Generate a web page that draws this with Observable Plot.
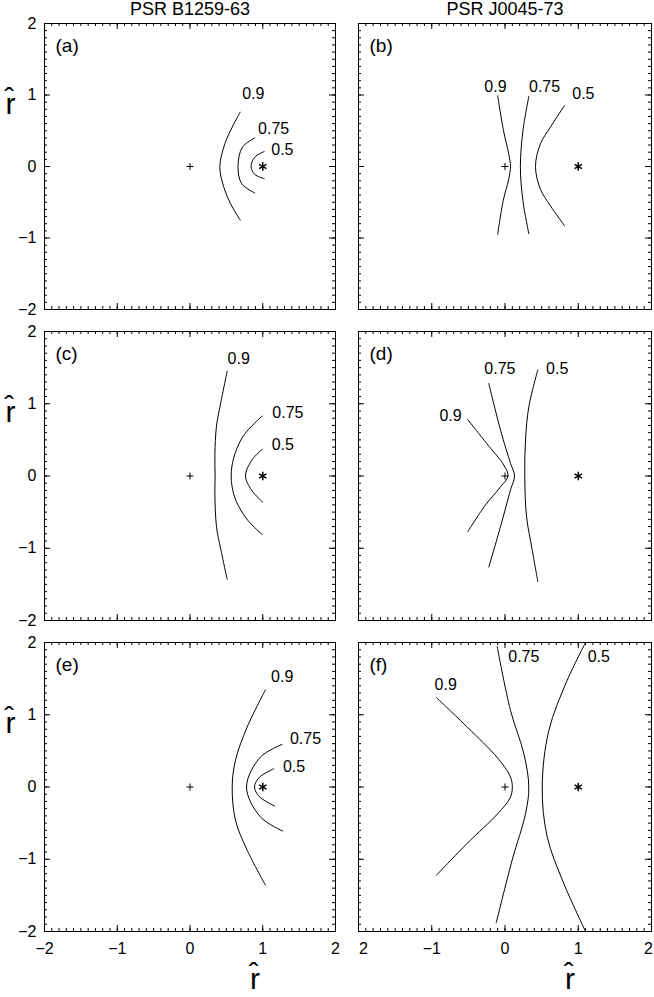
<!DOCTYPE html>
<html><head><meta charset="utf-8">
<script src="https://cdn.jsdelivr.net/npm/d3@7"></script>
<script src="https://cdn.jsdelivr.net/npm/@observablehq/plot@0.6"></script>
<style>
html,body{margin:0;padding:0;background:#fff;}
#fig{position:relative;width:654px;height:997px;overflow:hidden;background:#fff;}
#fig svg{position:absolute;}
</style></head><body><div id="fig"></div>
<script>
// ---------- data ----------
const columnTitles = ["PSR B1259-63", "PSR J0045-73"];
const panelLetters = ["(a)", "(b)", "(c)", "(d)", "(e)", "(f)"];
const levelNames = ["0.9", "0.75", "0.5"];
const majorTicks = [-2, -1, 0, 1, 2];
const yTickLabels = ["−2", "−1", "0", "1", "2"];
const leftColXTickLabels = ["−2", "−1", "0", "1", "2"];
const rightColXTickLabels = ["2", "−1", "0", "1", "2"];
const axisTitle = "r\u0302";
const pulsarPos = [[0, 0]];
const starPos = [[1, 0]];

// panel (a)
const a09 = [[0.69,0.76],[0.58,0.55],[0.48,0.32],[0.41,0.0],[0.465,-0.29],[0.557,-0.52],[0.69,-0.75]];
const a075 = [[0.89,0.40],[0.72,0.27],[0.66,0.0],[0.71,-0.24],[0.89,-0.37]];
const a05 = [[1.02,0.21],[0.89,0.13],[0.84,0.0],[0.89,-0.11],[1.02,-0.17]];
const aLabels = [[0.87,1.02],[1.15,0.53],[1.27,0.23]];
// panel (b)
const b09 = [[-0.10,0.99],[-0.02,0.50],[0.05,0.18],[0.075,0.0],[0.05,-0.18],[-0.025,-0.48],[-0.10,-0.95]];
const b075 = [[0.325,0.98],[0.245,0.50],[0.21,0.0],[0.245,-0.48],[0.325,-0.94]];
const b05 = [[0.81,0.85],[0.62,0.55],[0.485,0.32],[0.416,0.0],[0.485,-0.32],[0.62,-0.55],[0.81,-0.825]];
const bLabels = [[-0.13,1.11],[0.54,1.12],[1.07,1.02]];
// panel (c)
const c09 = [[0.511,1.45],[0.42,1.0],[0.364,0.69],[0.342,0.30],[0.345,0.0],[0.342,-0.25],[0.364,-0.70],[0.42,-1.0],[0.511,-1.43]];
const c075 = [[0.992,0.83],[0.80,0.64],[0.70,0.50],[0.60,0.25],[0.566,0.0],[0.60,-0.25],[0.67,-0.42],[0.80,-0.62],[0.992,-0.81]];
const c05 = [[0.992,0.368],[0.85,0.22],[0.763,0.0],[0.85,-0.20],[1.0,-0.363]];
const cLabels = [[0.67,1.62],[1.345,0.873],[1.276,0.43]];
// panel (d)
const d09 = [[-0.508,0.78],[-0.25,0.45],[-0.016,0.15],[0.04,0.0],[-0.06,-0.148],[-0.28,-0.42],[-0.508,-0.77]];
const d075 = [[-0.221,1.28],[-0.061,0.634],[0.075,0.176],[0.13,0.0],[0.075,-0.193],[-0.061,-0.70],[-0.221,-1.26]];
const d05 = [[0.448,1.47],[0.325,0.956],[0.28,0.497],[0.27,0.0],[0.294,-0.56],[0.371,-1.02],[0.448,-1.46]];
const dLabels = [[-0.744,0.83],[-0.07,1.485],[0.713,1.485]];
// panel (e)
const e09 = [[1.038,1.347],[0.786,0.83],[0.625,0.37],[0.58,0.0],[0.625,-0.46],[0.786,-0.875],[1.038,-1.36]];
const e075 = [[1.267,0.59],[0.969,0.415],[0.777,0.0],[0.969,-0.415],[1.276,-0.61]];
const e05 = [[1.152,0.254],[0.95,0.13],[0.887,0.0],[0.95,-0.13],[1.162,-0.263]];
const eLabels = [[1.267,1.53],[1.588,0.67],[1.43,0.277]];
// panel (f)
const f09 = [[-0.935,1.236],[-0.516,0.83],[-0.10,0.40],[0.07,0.15],[0.10,0.0],[0.07,-0.15],[-0.10,-0.37],[-0.516,-0.78],[-0.935,-1.22]];
const f075 = [[-0.106,1.94],[0.075,1.06],[0.26,0.45],[0.325,0.0],[0.28,-0.37],[0.098,-1.01],[-0.12,-1.88]];
const f05 = [[1.10,2.0],[0.849,1.476],[0.598,0.78],[0.508,0.0],[0.576,-0.69],[0.803,-1.336],[1.10,-2.0]];
const fLabels = [[-0.81,1.41],[0.257,1.80],[1.28,1.80]];

const panelCurves = [[a09,a075,a05],[b09,b075,b05],[c09,c075,c05],[d09,d075,d05],[e09,e075,e05],[f09,f075,f05]];
const panelLabels = [aLabels,bLabels,cLabels,dLabels,eLabels,fLabels];

// ---------- layout ----------
const cols = [
  {left: 0, width: 345, ml: 44, mr: 10},
  {left: 345, width: 309, ml: 13, mr: 3}
];
const rows = [
  {top: 0, height: 320, mt: 23, mb: 11},
  {top: 320, height: 311, mt: 11, mb: 11},
  {top: 631, height: 366, mt: 11, mb: 66}
];
const minorTicks = d3.ticks(-2, 2, 40);
const FONT = "'Liberation Sans', Arial, sans-serif";
const fig = document.getElementById("fig");

function panel(idx) {
  const ci = idx % 2, ri = Math.floor(idx / 2);
  const c = cols[ci], r = rows[ri];
  const W = c.width - c.ml - c.mr;
  const H = r.height - r.mt - r.mb;
  const xy = {x: d => d[0], y: d => d[1]};
  const marks = [
    Plot.frame({stroke: "black", strokeWidth: 1}),
    Plot.tickX(majorTicks, {x: d => d, insetTop: H - 6, stroke: "black"}),
    Plot.tickX(majorTicks, {x: d => d, insetBottom: H - 6, stroke: "black"}),
    Plot.tickX(minorTicks, {x: d => d, insetTop: H - 3, stroke: "black"}),
    Plot.tickX(minorTicks, {x: d => d, insetBottom: H - 3, stroke: "black"}),
    Plot.tickY(majorTicks, {y: d => d, insetRight: W - 6, stroke: "black"}),
    Plot.tickY(majorTicks, {y: d => d, insetLeft: W - 6, stroke: "black"}),
    Plot.tickY(minorTicks, {y: d => d, insetRight: W - 3, stroke: "black"}),
    Plot.tickY(minorTicks, {y: d => d, insetLeft: W - 3, stroke: "black"}),
    ...panelCurves[idx].map(cv => Plot.line(cv, {...xy, curve: "catmull-rom", stroke: "black", strokeWidth: 1})),
    Plot.text(panelLabels[idx], {...xy, text: (d, i) => levelNames[i], fontSize: 16, textAnchor: "middle", letterSpacing: "2px"}),
    Plot.dot(pulsarPos, {...xy, symbol: "plus", r: 2.4, stroke: "black", strokeWidth: 1}),
    Plot.dot(starPos, {...xy, symbol: "asterisk", r: 4, stroke: "black", strokeWidth: 1.5}),
    Plot.text([panelLetters[idx]], {frameAnchor: "top-left", dx: 11, dy: 15, lineAnchor: "top", textAnchor: "start", fontSize: 19, letterSpacing: "1.5px"})
  ];
  if (ci === 0) {
    marks.push(Plot.text(majorTicks, {y: d => d, frameAnchor: "left", dx: -8, textAnchor: "end", text: (d, i) => yTickLabels[i], fontSize: 16, letterSpacing: "1px"}));
    marks.push(Plot.text([axisTitle], {frameAnchor: "top-left", dx: -34, dy: 90, lineAnchor: "bottom", textAnchor: "middle", fontSize: 30}));
  }
  if (ri === 0) {
    marks.push(Plot.text([columnTitles[ci]], {frameAnchor: "top", dy: -9, lineAnchor: "bottom", fontSize: 18, letterSpacing: "0.5px"}));
  }
  if (ri === 2) {
    const labs = ci === 0 ? leftColXTickLabels : rightColXTickLabels;
    const common = {x: d => d, frameAnchor: "bottom", dy: 22, fontSize: 16, letterSpacing: "1px"};
    if (ci === 0) {
      marks.push(Plot.text(majorTicks, {...common, text: (d, i) => labs[i]}));
    } else {
      marks.push(Plot.text(majorTicks.slice(1, 4), {...common, text: (d, i) => labs[i + 1]}));
      marks.push(Plot.text(majorTicks.slice(0, 1), {...common, dx: 5, text: () => labs[0]}));
      marks.push(Plot.text(majorTicks.slice(4), {...common, dx: -3, text: () => labs[4]}));
    }
    marks.push(Plot.text([axisTitle], {frameAnchor: "bottom", dx: 65, dy: 57, lineAnchor: "bottom", textAnchor: "middle", fontSize: 30}));
  }
  const svg = Plot.plot({
    width: c.width, height: r.height,
    marginLeft: c.ml, marginRight: c.mr, marginTop: r.mt, marginBottom: r.mb,
    x: {domain: [-2, 2], axis: null},
    y: {domain: [-2, 2], axis: null},
    style: {fontFamily: FONT, fontSize: "15px", background: "transparent", overflow: "visible", color: "black"},
    marks
  });
  svg.style.left = c.left + "px";
  svg.style.top = r.top + "px";
  svg.style.position = "absolute";
  svg.style.maxWidth = "none";
  fig.appendChild(svg);
}
for (let i = 0; i < 6; i++) panel(i);
</script></body></html>
